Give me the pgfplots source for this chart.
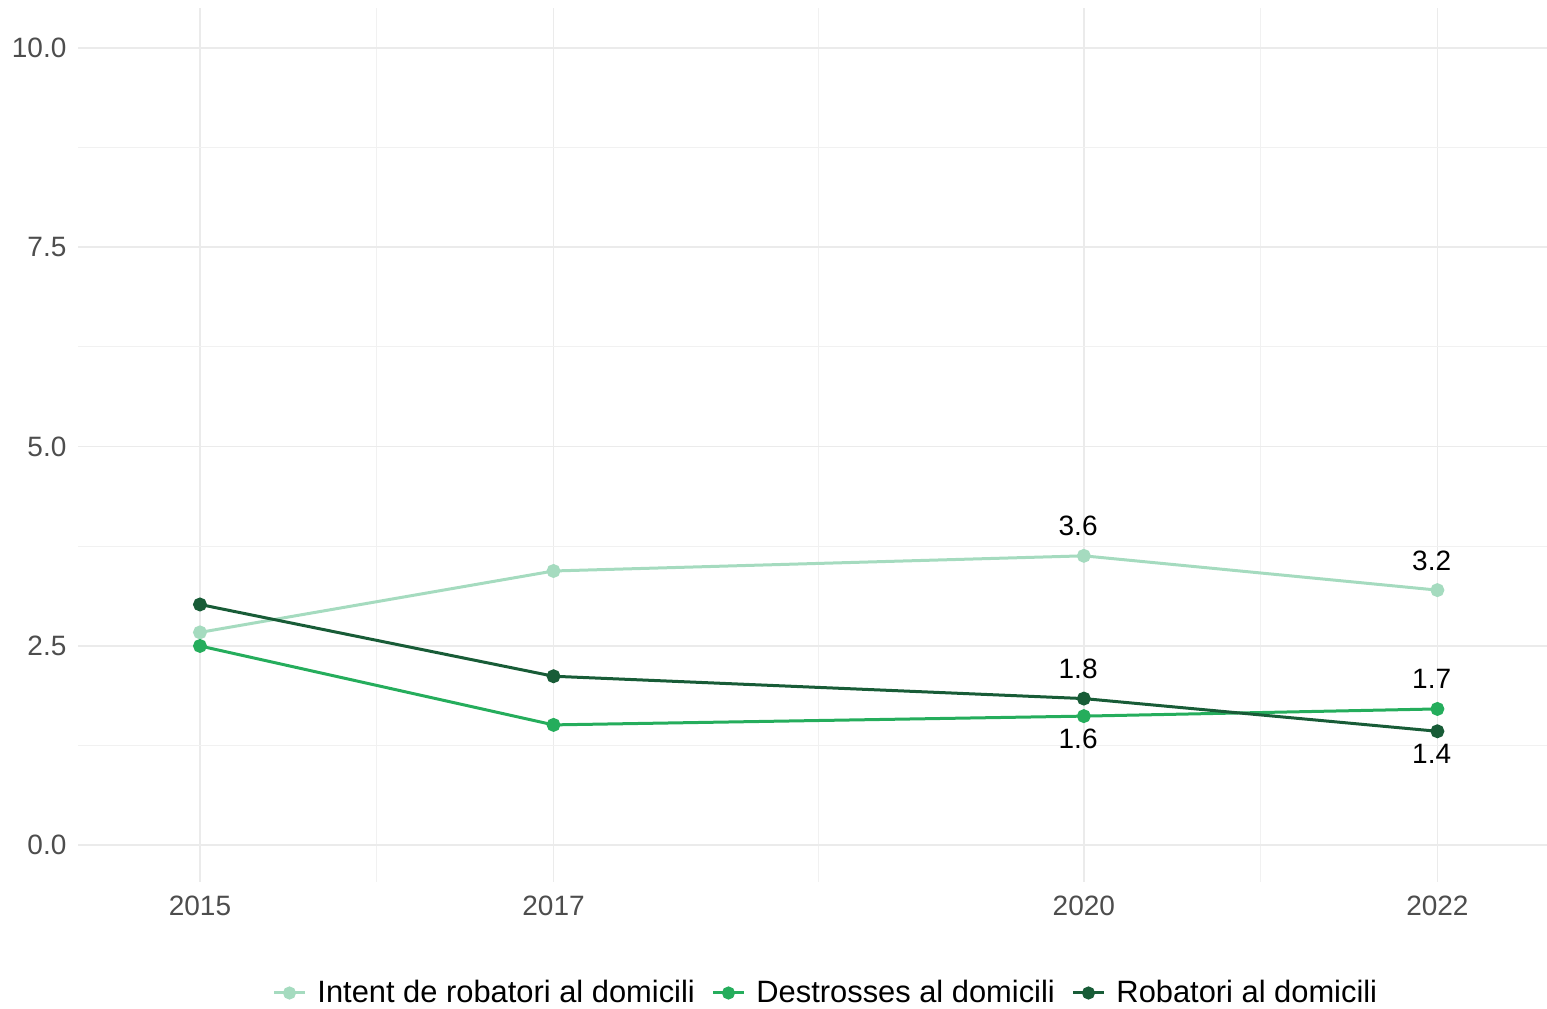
\documentclass[border=0pt]{standalone}
\usepackage{pgfplots}
\pgfplotsset{compat=1.18}
\usepackage{fontspec}
\setmainfont{Liberation Sans}
\definecolor{cLight}{HTML}{A5DBBF}
\definecolor{cMid}{HTML}{25AD5C}
\definecolor{cDark}{HTML}{185C37}
\definecolor{gridmaj}{HTML}{EBEBEB}
\definecolor{gridmin}{HTML}{F1F1F1}
\definecolor{ticktext}{HTML}{4D4D4D}
\begin{document}
\begin{tikzpicture}
\useasboundingbox (-27.3pt,-44.45pt) rectangle (514.15pt,308.7pt);
\begin{axis}[
  scale only axis,
  width=514.15pt, height=305.9pt,
  xmin=2014.31, xmax=2022.62,
  ymin=-0.46, ymax=10.5,
  axis line style={draw=none},
  tick style={draw=none},
  xtick={2015,2017,2020,2022},
  xticklabels={2015,2017,2020,2022},
  minor xtick={2016,2018.5,2021},
  ytick={0,2.5,5,7.5,10},
  yticklabels={0.0,2.5,5.0,7.5,10.0},
  minor ytick={1.25,3.75,6.25,8.75},
  grid=both,
  major grid style={draw=gridmaj, line width=0.6pt},
  minor grid style={draw=gridmin, line width=0.4pt},
  ticklabel style={font=\fontsize{9.8pt}{11pt}\selectfont, text=ticktext},
  xticklabel style={anchor=center, yshift=-8.4pt},
  yticklabel style={anchor=east, inner sep=0pt, xshift=-3.85pt},
  legend columns=3,
  legend style={at={(0.5105,-0.127)}, anchor=center, draw=none, fill=none,
    font=\fontsize{10.8pt}{12pt}\selectfont,
    /tikz/every even column/.append style={column sep=4pt},
    /tikz/every odd column/.append style={column sep=0pt},
    nodes={inner sep=2pt}},
  legend cell align=left,
  legend image code/.code={
    \draw[#1, mark=none] (0cm,0cm) -- (0.37cm,0cm);
    \fill[#1] (0.185cm,0cm) circle (1.75pt);
  },
  every axis plot/.append style={line width=1.05pt},
  clip=false,
]
\addplot[color=cLight, mark=*, mark size=1.9pt] coordinates {
 (2015,2.67) (2017,3.44) (2020,3.63) (2022,3.20)};
\addlegendentry{\hspace{2pt}Intent de robatori al domicili}
\addplot[color=cMid, mark=*, mark size=1.9pt] coordinates {
 (2015,2.50) (2017,1.51) (2020,1.62) (2022,1.71)};
\addlegendentry{\hspace{2pt}Destrosses al domicili}
\addplot[color=cDark, mark=*, mark size=1.9pt] coordinates {
 (2015,3.02) (2017,2.12) (2020,1.84) (2022,1.43)};
\addlegendentry{\hspace{2pt}Robatori al domicili}
% labels above
\addplot[draw=none, mark=none, forget plot, nodes near coords, point meta=explicit symbolic,
  every node near coord/.append style={anchor=center, yshift=10.4pt, xshift=-2pt, text=black, font=\fontsize{9.8pt}{11pt}\selectfont}]
  coordinates {(2020,3.63)[3.6] (2022,3.20)[3.2] (2020,1.84)[1.8] (2022,1.71)[1.7]};
% labels below
\addplot[draw=none, mark=none, forget plot, nodes near coords, point meta=explicit symbolic,
  every node near coord/.append style={anchor=center, yshift=-8pt, xshift=-2pt, text=black, font=\fontsize{9.8pt}{11pt}\selectfont}]
  coordinates {(2020,1.62)[1.6] (2022,1.43)[1.4]};
\end{axis}
\end{tikzpicture}
\end{document}
